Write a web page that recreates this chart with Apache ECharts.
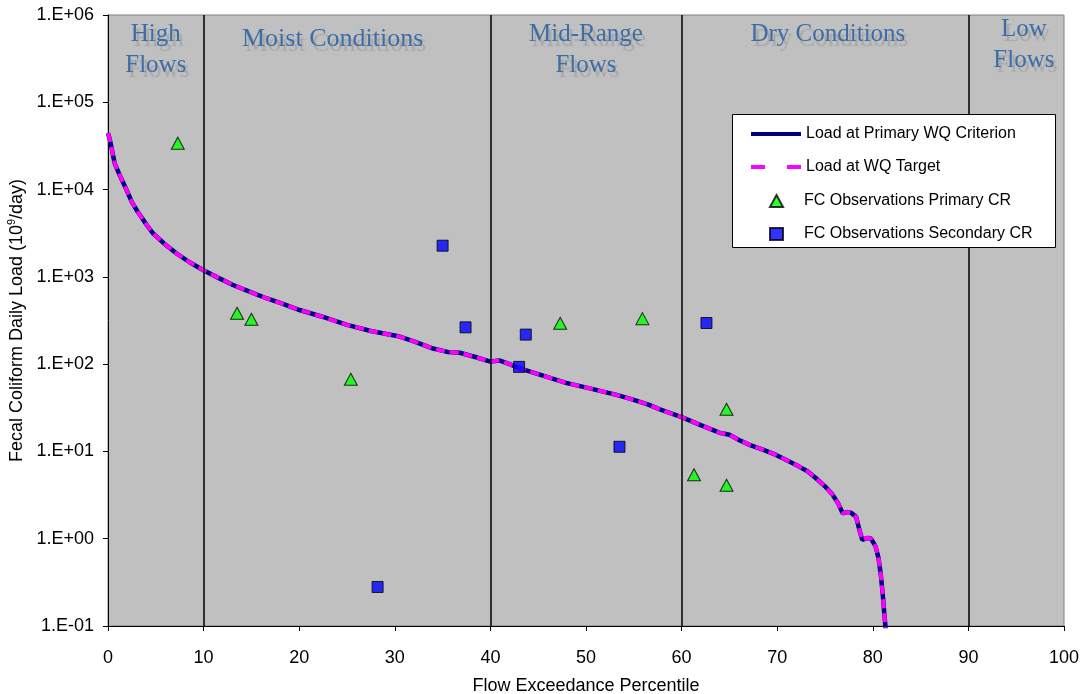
<!DOCTYPE html>
<html>
<head>
<meta charset="utf-8">
<script src="https://cdn.jsdelivr.net/npm/echarts@6/dist/echarts.min.js"></script>
<style>
  html, body { margin: 0; padding: 0; background: #ffffff; }
  #chart { width: 1086px; height: 694px; }
</style>
</head>
<body>
<div id="chart"></div>
<script>
// Load duration curve: flow exceedance percentile vs. daily fecal coliform load (10^9/day)
const flowPct = [0, 0.2, 0.7, 1.2, 1.8, 2.5, 3.0, 4.0, 4.7, 6.0, 7.15, 8.5, 9.93, 11.5, 13.07, 14.8,
  16.56, 18.3, 20.04, 22.5, 25, 27.5, 30.5, 32, 34.0, 35.5, 36.8, 38.5, 40, 41, 42, 43, 45.5, 47.9,
  50.5, 53.2, 55, 56.6, 57.66, 60, 62, 63.95, 65.0, 66, 67.1, 68.5, 69.88, 71, 72.3, 73.2, 74.06, 75,
  75.8, 76.4, 76.85, 77.3, 77.7, 78.25, 78.6, 78.9, 79.4, 79.8, 80.3, 80.6, 80.86, 81.05, 81.2, 81.4];
const criterionLoad = [44200, 37000, 20000, 14800, 10700, 7200, 5800, 4000, 3160, 2340, 1860, 1480, 1200, 980, 807, 676,
  569, 490, 417, 347, 282, 240, 207, 182, 151, 138, 135, 120, 107, 110, 100, 90, 74, 61,
  52.5, 44.4, 38.9, 34.1, 30.5, 24.7, 20, 16.4, 15.5, 13.5, 11.9, 10.5, 9.12, 7.94, 6.70, 5.89, 4.93, 3.98,
  3.18, 2.51, 1.96, 2.02, 1.99, 1.79, 1.26, 0.968, 1.02, 1.01, 0.81, 0.60, 0.368, 0.224, 0.140, 0.079];
// The target curve coincides with the criterion curve at this scale
const targetLoad = criterionLoad;

// Fecal coliform observations
const primaryPct = [7.3, 13.5, 15.0, 25.4, 47.3, 55.9, 61.3, 64.7, 64.7];
const primaryLoad = [34000, 383, 327, 67, 294, 332, 5.4, 30.4, 4.1];
const secondaryPct = [28.2, 35.0, 37.4, 43.0, 43.7, 53.5, 62.6];
const secondaryLoad = [0.28, 2275, 264, 93, 218, 11.3, 296];

// Flow regime zones
const zoneBounds = [10, 40, 60, 90];
const zoneNames = ['High\nFlows', 'Moist Conditions', 'Mid-Range\nFlows', 'Dry Conditions', 'Low\nFlows'];
const zoneLabelPct = [5.0, 23.5, 50.0, 75.3, 95.8];
const zoneLabelOffset = [4, 9, 4, 4, -1];

const xTicks = { min: 0, max: 100, interval: 10 };
const yRange = { min: 0.1, max: 1e6 };

const pairs = (xs, ys) => xs.map((x, i) => [x, ys[i]]);

const sansFont = '"Liberation Sans", Arial, Helvetica, sans-serif';
const serifFont = '"Liberation Serif", "Times New Roman", serif';

// legend entries for the curves show only the line, no marker
const hiddenMarker = { color: 'rgba(0,0,0,0)', borderWidth: 0, opacity: 0 };
const legendText = { fontFamily: sansFont, fontSize: 16, color: '#000000' };

const chart = echarts.init(document.getElementById('chart'), null, { renderer: 'canvas' });

chart.setOption({
  animation: false,
  backgroundColor: '#ffffff',
  grid: {
    left: 108, right: 22, top: 15, bottom: 68,
    outerBoundsMode: 'none',
    containLabel: false,
    show: true, backgroundColor: '#C0C0C0', borderColor: '#808080', borderWidth: 1
  },
  // white legend frame shared by the two legend blocks below
  graphic: [{
    type: 'rect',
    left: 732, top: 114,
    z: 20,
    shape: { width: 323, height: 133 },
    style: { fill: '#ffffff', stroke: '#000000', lineWidth: 1 }
  }],
  legend: [
    {
      orient: 'vertical',
      left: 749, top: 126,
      itemWidth: 50, itemHeight: 12, itemGap: 17,
      padding: 0,
      z: 30,
      textStyle: legendText,
      data: [
        { name: 'Load at Primary WQ Criterion', itemStyle: hiddenMarker, lineStyle: { width: 4 } },
        { name: 'Load at WQ Target', itemStyle: hiddenMarker, lineStyle: { width: 4, type: [14, 22] } }
      ]
    },
    {
      orient: 'vertical',
      left: 769, top: 193,
      itemWidth: 13, itemHeight: 12, itemGap: 17,
      padding: 0,
      z: 30,
      textStyle: Object.assign({ rich: { gap: { width: 16 } } }, legendText),
      formatter: name => '{gap|}' + name,
      data: [
        { name: 'FC Observations Primary CR' },
        { name: 'FC Observations Secondary CR' }
      ]
    }
  ],
  xAxis: {
    type: 'value',
    min: xTicks.min, max: xTicks.max, interval: xTicks.interval,
    name: 'Flow Exceedance Percentile',
    nameLocation: 'middle', nameGap: 51,
    nameTextStyle: { fontFamily: sansFont, fontSize: 18, color: '#000000' },
    axisLine: { show: true, onZero: false, lineStyle: { color: '#000000', width: 1 } },
    axisTick: { show: true, inside: false, length: 5, lineStyle: { color: '#000000' } },
    axisLabel: { fontFamily: sansFont, fontSize: 18, color: '#000000', margin: 23 },
    splitLine: { show: false }
  },
  yAxis: {
    type: 'log', logBase: 10,
    min: yRange.min, max: yRange.max,
    name: 'Fecal Coliform Daily Load (10{sup|9}/day)',
    nameLocation: 'middle', nameGap: 80,
    nameTextStyle: {
      fontFamily: sansFont, fontSize: 18, color: '#000000',
      rich: { sup: { fontFamily: sansFont, fontSize: 11, verticalAlign: 'top', padding: [0, 0, 9, 0], color: '#000000' } }
    },
    axisLine: { show: true, lineStyle: { color: '#000000', width: 1 } },
    axisTick: { show: true, inside: false, length: 5, lineStyle: { color: '#000000' } },
    axisLabel: {
      fontFamily: sansFont, fontSize: 18, color: '#000000', margin: 14,
      formatter: function (v) {
        const e = Math.round(Math.log10(v));
        return '1.E' + (e < 0 ? '-' : '+') + String(Math.abs(e)).padStart(2, '0');
      }
    },
    splitLine: { show: false },
    minorTick: { show: false }
  },
  series: [
    {
      name: 'Load at Primary WQ Criterion',
      type: 'line',
      data: pairs(flowPct, criterionLoad),
      symbol: 'none',
      clip: true,
      z: 3,
      lineStyle: { color: '#000080', width: 4.5 },
      itemStyle: { color: '#000080' },
      markLine: {
        silent: true,
        symbol: ['none', 'none'],
        label: { show: false },
        lineStyle: { color: '#000000', width: 1.5, type: 'solid' },
        data: zoneBounds.map(b => ({ xAxis: b }))
      },
      markPoint: {
        silent: true,
        symbol: 'circle',
        symbolSize: 0,
        data: zoneNames.map((n, i) => ({
          coord: [zoneLabelPct[i], yRange.max],
          label: {
            show: true,
            formatter: n,
            position: 'inside',
            align: 'center',
            verticalAlign: 'top',
            offset: [0, zoneLabelOffset[i]],
            fontFamily: serifFont,
            fontSize: i === 1 ? 26 : 25,
            lineHeight: 31,
            color: '#3C6DA6',
            textShadowColor: 'rgba(80,80,80,0.22)',
            textShadowOffsetX: 3,
            textShadowOffsetY: 5,
            textShadowBlur: 1
          }
        }))
      }
    },
    {
      name: 'Load at WQ Target',
      type: 'line',
      data: pairs(flowPct, targetLoad),
      symbol: 'none',
      clip: true,
      z: 4,
      lineStyle: { color: '#FF00FF', width: 4, type: [9, 5] },
      itemStyle: { color: '#FF00FF' }
    },
    {
      name: 'FC Observations Primary CR',
      type: 'scatter',
      data: pairs(primaryPct, primaryLoad),
      symbol: 'triangle',
      symbolSize: [13, 12],
      z: 5,
      itemStyle: { color: '#00FF00', borderColor: '#000000', borderWidth: 1 }
    },
    {
      name: 'FC Observations Secondary CR',
      type: 'scatter',
      data: pairs(secondaryPct, secondaryLoad),
      symbol: 'rect',
      symbolSize: 11,
      z: 5,
      itemStyle: { color: '#0000FF', borderColor: '#000000', borderWidth: 1 }
    }
  ]
});
</script>
</body>
</html>
